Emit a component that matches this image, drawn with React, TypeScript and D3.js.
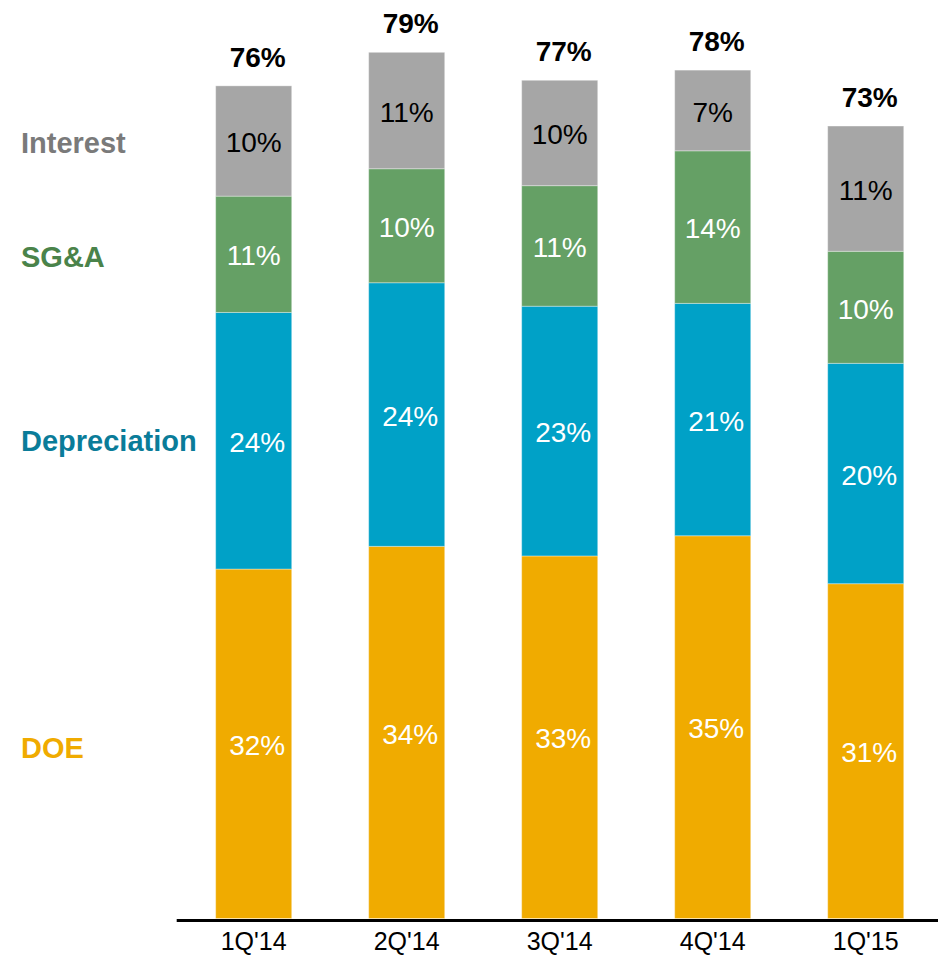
import React from "react";
import * as d3 from "d3";

const categories = ["1Q'14", "2Q'14", "3Q'14", "4Q'14", "1Q'15"];
const doe = [32.0, 34.08, 33.2, 35.05, 30.66];
const depreciation = [23.5, 24.14, 22.87, 21.28, 20.18];
const sga = [10.65, 10.44, 11.04, 13.97, 10.26];
const interest = [10.1, 10.66, 9.65, 7.39, 11.47];

const seriesKeys = ["DOE", "Depreciation", "SG&A", "Interest"];
const seriesValues = [doe, depreciation, sga, interest];

const W = 938;
const H = 955;
const FONT = "Arial, 'Liberation Sans', sans-serif";

const styles: Record<string, { fill: string; legend: string; text: string; dx: number; legendDy: number }> = {
  DOE: { fill: "#F0AB00", legend: "#F0AB00", text: "#FFFFFF", dx: 3.5, legendDy: 3 },
  Depreciation: { fill: "#00A1C7", legend: "#0A7C99", text: "#FFFFFF", dx: 3.5, legendDy: -1 },
  "SG&A": { fill: "#65A065", legend: "#4A834A", text: "#FFFFFF", dx: 0, legendDy: 1 },
  Interest: { fill: "#A6A6A6", legend: "#7A7A7A", text: "#000000", dx: 0, legendDy: 0 },
};

export default function App() {
  const rows = categories.map((c, i) => {
    const r: any = { cat: c };
    seriesKeys.forEach((k, j) => (r[k] = seriesValues[j][i]));
    return r;
  });
  const stacked = d3.stack<any>().keys(seriesKeys)(rows);

  const x = d3.scaleBand<string>().domain(categories).range([138.7, 980.7]).padding(0.503);
  const y = d3.scaleLinear().domain([0, 84]).range([918.5, 918.5 - 84 * 10.92]);

  const totals = rows.map((r) => seriesKeys.reduce((s, k) => s + r[k], 0));

  return (
    <svg width={W} height={H} style={{ position: "absolute", left: 0, top: 0, background: "#fff" }} fontFamily={FONT}>
      {stacked.map((layer) => {
        const st = styles[layer.key];
        return (
          <g key={layer.key}>
            {layer.map((d, i) => {
              const x0 = x(categories[i])!;
              const y0 = y(d[1]);
              const y1 = y(d[0]);
              const mid = (y0 + y1) / 2;
              return (
                <g key={i}>
                  <rect
                    x={x0}
                    y={y0}
                    width={x.bandwidth()}
                    height={y1 - y0}
                    fill={st.fill}
                    stroke="rgba(255,255,255,0.35)"
                    strokeWidth={1}
                  />
                  <text
                    x={x0 + x.bandwidth() / 2 + st.dx}
                    y={mid}
                    dy="0.4em"
                    textAnchor="middle"
                    fontSize={28}
                    fill={st.text}
                  >
                    {Math.round(d[1] - d[0])}%
                  </text>
                </g>
              );
            })}
          </g>
        );
      })}

      {totals.map((t, i) => (
        <text
          key={i}
          x={x(categories[i])! + x.bandwidth() / 2 + 4}
          y={y(t) - 19}
          textAnchor="middle"
          fontSize={28}
          fontWeight="bold"
          fill="#000"
        >
          {Math.round(t)}%
        </text>
      ))}

      {stacked.map((layer) => {
        const d = layer[0];
        const mid = (y(d[0]) + y(d[1])) / 2;
        const st = styles[layer.key];
        return (
          <text
            key={layer.key}
            x={21}
            y={mid + st.legendDy}
            dy="0.4em"
            fontSize={29}
            fontWeight="bold"
            fill={st.legend}
          >
            {layer.key}
          </text>
        );
      })}

      <line x1={176.7} x2={W} y1={920.5} y2={920.5} stroke="#000" strokeWidth={3} />

      {categories.map((c) => (
        <text
          key={c}
          x={x(c)! + x.bandwidth() / 2}
          y={949.5}
          textAnchor="middle"
          fontSize={25}
          fill="#000"
        >
          {c}
        </text>
      ))}
    </svg>
  );
}
